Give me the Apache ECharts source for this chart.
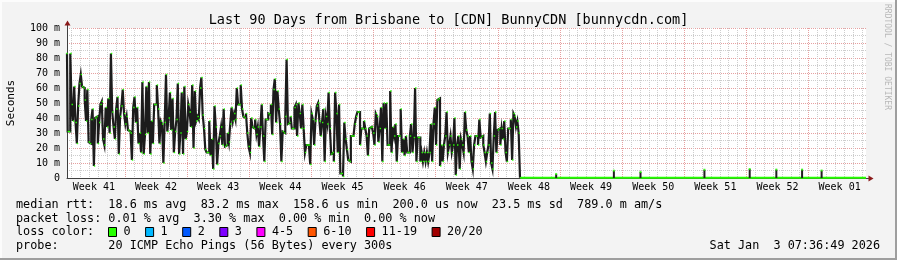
<!DOCTYPE html>
<html><head><meta charset="utf-8">
<script src="https://cdn.jsdelivr.net/npm/echarts@6/dist/echarts.min.js"></script>
<style>html,body{margin:0;padding:0;background:#f3f3f3}#c{width:897px;height:260px}</style>
</head><body><div id="c"></div>
<script>
// ---- data (milliseconds / days since chart start) ----
const rtt = [
83,31,31,83,49,38,61,37,23,48,63,69,61,60,52,38,59,24,23,39,46,8,40,41,23,37,49,51,26,22,47,34,53,30,83,44,34,26,46,54,16,41,48,59,43,36,41,32,31,30,12,47,54,37,
47,23,30,17,64,16,29,61,30,64,16,38,23,49,49,62,46,23,38,36,10,37,69,31,40,57,32,53,17,31,39,63,16,30,57,16,61,26,31,49,44,34,62,20,58,38,41,39,60,67,42,33,19,17,17,38,15,26,
6,48,34,9,23,28,34,22,46,21,22,30,24,36,47,38,43,39,60,49,49,62,46,41,40,43,30,21,17,40,34,33,39,29,34,21,34,49,28,11,39,39,43,42,49,29,59,66,37,58,46,36,11,31,30,41,79,36,37,
41,33,33,47,49,28,50,43,33,49,33,17,22,22,22,9,43,39,22,38,48,50,38,28,37,46,11,41,36,57,33,16,17,11,57,43,17,49,3,3,1,37,26,19,12,11,28,28,28,36,41,44,44,22,33,33,38,
33,28,15,33,34,34,30,22,43,41,24,33,47,11,50,33,50,22,22,58,17,34,28,36,11,28,28,46,17,26,15,28,17,17,28,36,17,27,60,11,27,27,11,17,11,17,11,17,11,17,36,11,36,47,22,52,53,
8,22,11,22,28,44,17,22,28,17,22,40,2,22,28,6,26,22,17,44,32,28,17,28,11,6,22,28,28,22,39,27,28,22,17,11,17,22,43,10,6,28,44,17,32,33,22,33,26,38,17,11,33,33,39,12,43,41,34,38,30
];
const rttEndDay = 50.95;
const tailDays = [51.1, 90];
const tailRtt = [0.2, 0.2];
const spikeDays = [55.1, 61.6, 64.6, 71.8, 76.9, 79.9, 82.8, 85.0];
const spikeRtt = [2.7, 4.9, 4.0, 5.5, 6.0, 5.6, 5.6, 5.0];
const weekStarts = [6.53, 13.53, 20.53, 27.53, 34.53, 41.53, 48.53, 55.53, 62.53, 69.53, 76.53, 83.53];
const weekLabelDays = [3.03, 10.03, 17.03, 24.03, 31.03, 38.03, 45.03, 52.03, 59.03, 66.03, 73.03, 80.03, 87.03];
const weekNames = ['Week 41','Week 42','Week 43','Week 44','Week 45','Week 46','Week 47','Week 48','Week 49','Week 50','Week 51','Week 52','Week 01'];
const yTicks = [0,10,20,30,40,50,60,70,80,90,100];
const lossLabels = ['0','1','2','3','4-5','6-10','11-19','20/20'];
const lossColors = ['#26ff00','#00b8ff','#0059ff','#7e00ff','#ff00ff','#ff5500','#ff0000','#a10000'];
const statLines = [
  'median rtt:  18.6 ms avg  83.2 ms max  158.6 us min  200.0 us now  23.5 ms sd  789.0 m am/s',
  'packet loss: 0.01 % avg  3.30 % max  0.00 % min  0.00 % now',
  'loss color:',
  'probe:       20 ICMP Echo Pings (56 Bytes) every 300s'
];
const stamp = 'Sat Jan  3 07:36:49 2026';
const titleText = 'Last 90 Days from Brisbane to [CDN] BunnyCDN [bunnycdn.com]';

// ---- build ----
const MONO = '"DejaVu Sans Mono", monospace';
const step = rttEndDay / (rtt.length - 1);
const lineData = rtt.map((v, i) => [i * step, v]);
lineData.push([tailDays[0], tailRtt[0]]);
const tailData = tailDays.map((d, i) => [d, tailRtt[i]]);
const spikeData = spikeDays.map((d, i) => [d, spikeRtt[i]]);
const dayLines = [];
for (let k = 0; k < 90; k++) dayLines.push(+(weekStarts[0] - 6 + k).toFixed(2));

const minorGrid = '#cdcdcd';
const majorGrid = '#e6a0a0';
const axisCol = '#404040';
const arrowCol = '#8b1a1a';

const G = {l: 67, r: 866, t: 28, b: 178};

const graphic = [];
graphic.push({type:'rect', shape:{x:0,y:0,width:897,height:2}, style:{fill:'#fcfcfc'}, silent:true});
graphic.push({type:'rect', shape:{x:0,y:0,width:2,height:260}, style:{fill:'#fcfcfc'}, silent:true});
graphic.push({type:'rect', shape:{x:895,y:0,width:2,height:260}, style:{fill:'#9e9e9e'}, silent:true});
graphic.push({type:'rect', shape:{x:0,y:258,width:897,height:2}, style:{fill:'#9e9e9e'}, silent:true});
graphic.push({type:'line', shape:{x1:G.l+0.5,y1:G.t,x2:G.l+0.5,y2:24}, style:{stroke:axisCol,lineWidth:1}, silent:true});
graphic.push({type:'polygon', shape:{points:[[64.5,25.5],[70.5,25.5],[67.5,20.5]]}, style:{fill:arrowCol}, silent:true});
graphic.push({type:'line', shape:{x1:G.r,y1:G.b+0.5,x2:870,y2:G.b+0.5}, style:{stroke:axisCol,lineWidth:1}, silent:true});
graphic.push({type:'polygon', shape:{points:[[868.5,175.5],[868.5,181.5],[873.5,178.5]]}, style:{fill:arrowCol}, silent:true});
graphic.push({type:'text', x:887.5, y:4, rotation:-Math.PI/2,
  style:{text:'RRDTOOL / TOBI OETIKER', font:'8px ' + MONO, fill:'#b8b8b8', textAlign:'left', textVerticalAlign:'middle'}, silent:true});
const rowY = [204.5, 218.5, 232, 246];
const CW = 7.1;
statLines.forEach((t, i) => {
  graphic.push({type:'text', x:16, y:rowY[i], style:{text:t, font:'11.8px ' + MONO, fill:'#000', textVerticalAlign:'middle'}, silent:true});
});
let bx = 108.5;
lossLabels.forEach((lab, i) => {
  graphic.push({type:'rect', shape:{x:bx, y:rowY[2]-4.5, width:8, height:9}, style:{fill:lossColors[i], stroke:'#000', lineWidth:1}, silent:true});
  graphic.push({type:'text', x:bx+15, y:rowY[2], style:{text:lab, font:'11.8px ' + MONO, fill:'#000', textVerticalAlign:'middle'}, silent:true});
  bx = bx + 15 + lab.length * CW + 15;
});
graphic.push({type:'text', x:880, y:rowY[3], style:{text:stamp, font:'11.8px ' + MONO, fill:'#000', textAlign:'right', textVerticalAlign:'middle'}, silent:true});

const chart = echarts.init(document.getElementById('c'), null, {renderer:'canvas'});
chart.setOption({
  animation: false,
  backgroundColor: '#f3f3f3',
  title: {text: titleText, left: 'center', top: 8,
    textStyle: {fontFamily: MONO, fontSize: 13.5, fontWeight: 'normal', color: '#000'}},
  grid: {left: G.l, right: 897 - G.r, top: G.t, bottom: 260 - G.b, show: true, backgroundColor: '#ffffff', borderWidth: 0,
    containLabel: false, outerBoundsMode: 'none'},
  xAxis: [
    {type:'value', min:0, max:90, position:'bottom',
      axisLine:{show:false}, axisLabel:{show:false},
      axisTick:{show:false, customValues: dayLines},
      splitLine:{show:true, lineStyle:{color:minorGrid, width:1, type:[1,1]}}},
    {type:'value', min:0, max:90, position:'bottom',
      axisLine:{show:true, lineStyle:{color:axisCol, width:1}},
      axisTick:{show:false, customValues: weekStarts},
      splitLine:{show:true, lineStyle:{color:majorGrid, width:1, type:[1,1]}},
      axisLabel:{show:true, customValues: weekLabelDays, margin:4, fontFamily:MONO, fontSize:10, color:'#000',
        formatter: v => {let b=0,bd=1e9; weekLabelDays.forEach((d,i)=>{if(Math.abs(d-v)<bd){bd=Math.abs(d-v);b=i;}}); return weekNames[b];}}}
  ],
  yAxis: [
    {type:'value', min:0, max:100, interval:5, position:'left',
      axisLine:{show:false}, axisLabel:{show:false}, axisTick:{show:false},
      splitLine:{show:true, lineStyle:{color:minorGrid, width:1, type:[1,1]}}},
    {type:'value', min:yTicks[0], max:yTicks[yTicks.length-1], interval:10, position:'left',
      name:'Seconds', nameLocation:'middle', nameRotate:90, nameGap:50,
      nameTextStyle:{fontFamily:MONO, fontSize:11, color:'#000'},
      axisLine:{show:true, lineStyle:{color:axisCol, width:1}}, axisTick:{show:false},
      splitLine:{show:true, lineStyle:{color:majorGrid, width:1, type:[1,1]}},
      axisLabel:{margin:7, fontFamily:MONO, fontSize:10, color:'#000', formatter: v => v === 0 ? '0' : v + ' m'}}
  ],
  series: [
    {type:'line', xAxisIndex:1, yAxisIndex:1, data: tailData, symbol:'none',
      lineStyle:{color:'#26ff00', width:2}, z:2},
    {type:'bar', xAxisIndex:1, yAxisIndex:1, data: spikeData, barWidth:2,
      itemStyle:{color:'#202020'}, z:3},
    {type:'scatter', xAxisIndex:1, yAxisIndex:1, data: spikeData, symbol:'rect', symbolSize:[2,2],
      itemStyle:{color:'#26ff00', borderWidth:0}, z:4},
    {type:'line', xAxisIndex:1, yAxisIndex:1, data: lineData, step:'middle',
      symbol:'rect', symbolSize:[1.4,1.4], showSymbol:true, showAllSymbol:true,
      itemStyle:{color:'#26ff00', borderWidth:0}, lineStyle:{color:'#1c1c1c', width:2.2, join:'miter'}, z:5}
  ],
  graphic: graphic
});
</script></body></html>
